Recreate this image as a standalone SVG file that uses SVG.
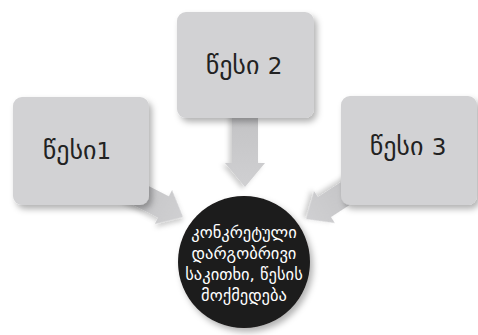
<svg xmlns="http://www.w3.org/2000/svg" width="478" height="335" viewBox="0 0 478 335">
<style>
.box{fill:#d2d2d4}
.arrow{fill:url(#ag)}
.lbl{font-family:"DejaVu Sans","Noto Sans",sans-serif;font-size:26px;fill:#222;text-anchor:middle}
.num{font-size:23px}
.ctext{font-family:"DejaVu Sans","Noto Sans",sans-serif;font-size:16.5px;fill:#fff;text-anchor:middle}
</style>
<defs>
<filter id="sh" x="-20%" y="-20%" width="150%" height="150%">
<feDropShadow dx="3" dy="4" stdDeviation="3" flood-color="#000" flood-opacity="0.3"/>
</filter>
<filter id="ash" x="-20%" y="-20%" width="150%" height="150%">
<feDropShadow dx="2" dy="3" stdDeviation="2.5" flood-color="#000" flood-opacity="0.2"/>
</filter>
<linearGradient id="ag" x1="0" y1="0" x2="1" y2="0">
<stop offset="0" stop-color="#c2c2c4"/>
<stop offset="1" stop-color="#d0d0d2"/>
</linearGradient>
</defs>
<rect width="478" height="335" fill="#fff"/>
<g id="connectors">
<path class="arrow" filter="url(#ash)" transform="translate(183,217) rotate(27) translate(-64,0)" d="M0,-12 H42 V-19 L64,0 L42,19 V12 H0 Z"/>
<path class="arrow" filter="url(#ash)" transform="translate(306,219) rotate(147) translate(-64,0)" d="M0,-12 H42 V-19 L64,0 L42,19 V12 H0 Z"/>
<path class="arrow" filter="url(#ash)" transform="translate(245,187) rotate(90) translate(-75,0)" d="M0,-13 H51 V-20 L75,0 L51,20 V13 H0 Z"/>
</g>
<g id="node1">
<rect class="box" filter="url(#sh)" x="13" y="97" width="136" height="108" rx="9"/>
<text class="lbl" x="77" y="159">წესი<tspan class="num">1</tspan></text>
</g>
<g id="node2">
<rect class="box" filter="url(#sh)" x="177" y="12" width="137" height="106" rx="9"/>
<text class="lbl" x="244" y="74">წესი <tspan class="num">2</tspan></text>
</g>
<g id="node3">
<rect class="box" filter="url(#sh)" x="341" y="96" width="136" height="109" rx="9"/>
<text class="lbl" x="408" y="155">წესი <tspan class="num">3</tspan></text>
</g>
<g id="center">
<circle cx="244" cy="262" r="66" fill="#1b1a1a" filter="url(#sh)"/>
<text class="ctext" x="244" y="238">კონკრეტული</text>
<text class="ctext" x="244" y="259">დარგობრივი</text>
<text class="ctext" x="244" y="280">საკითხი, წესის</text>
<text class="ctext" x="244" y="301">მოქმედება</text>
</g>
</svg>
